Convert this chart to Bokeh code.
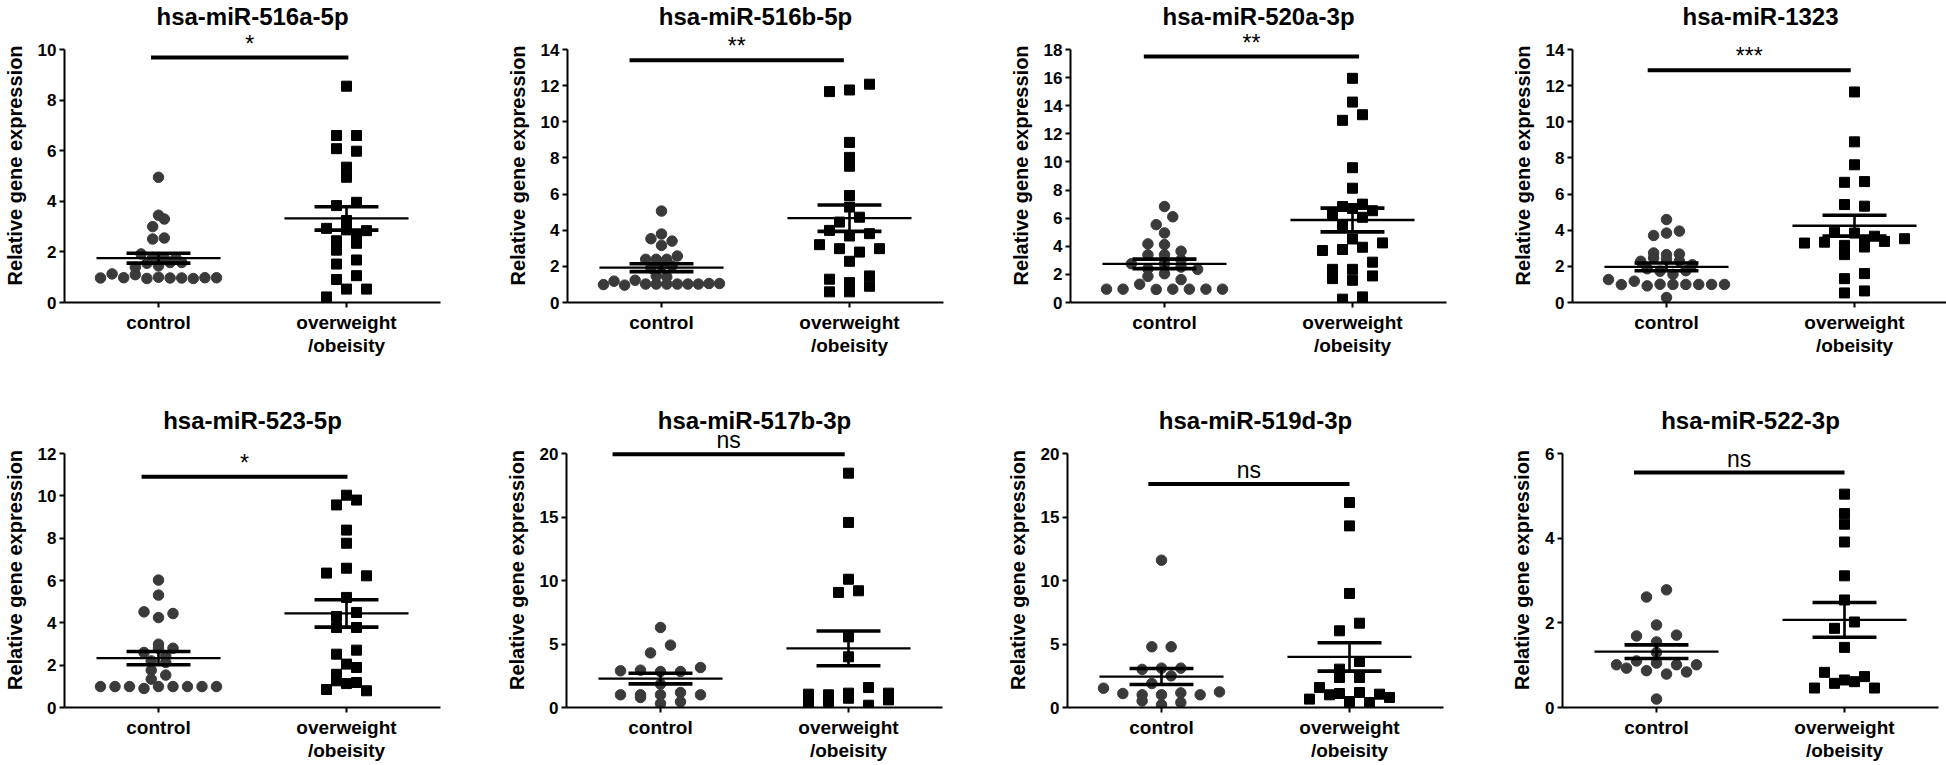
import numpy as np
from bokeh.plotting import figure
from bokeh.layouts import row, column
from bokeh.models import Range1d, FixedTicker, Label
from bokeh.embed import file_html
from bokeh.resources import INLINE

# ---------------- data ----------------
TITLES = ["hsa-miR-516a-5p", "hsa-miR-516b-5p", "hsa-miR-520a-3p", "hsa-miR-1323",
          "hsa-miR-523-5p", "hsa-miR-517b-3p", "hsa-miR-519d-3p", "hsa-miR-522-3p"]
CATEGORIES = ["control", "overweight\n/obeisity"]
Y_LABEL = "Relative gene expression"

CONTROL = [
    [0.97, 1.13, 0.98, 1.10, 0.95, 1.00, 0.97, 0.97, 0.95, 0.98, 0.98, 1.39, 1.55, 1.45, 1.58, 1.58,
     1.92, 1.78, 1.76, 1.76, 2.51, 2.55, 3.00, 3.30, 3.45, 4.95],
    [0.99, 1.18, 0.96, 1.23, 1.02, 1.02, 1.02, 1.02, 1.02, 1.02, 1.05, 1.05, 1.47, 1.42, 1.91, 2.02,
     2.02, 2.39, 2.39, 2.39, 2.57, 3.53, 3.16, 3.40, 3.79, 5.06],
    [0.95, 0.95, 1.30, 0.93, 0.95, 0.95, 0.95, 0.95, 1.86, 2.05, 1.63, 2.76, 2.40, 2.76, 2.52, 2.36,
     3.39, 3.39, 3.04, 4.17, 4.12, 3.65, 4.95, 5.54, 6.10, 6.83],
    [1.27, 0.99, 1.18, 0.92, 1.01, 1.00, 1.00, 1.00, 1.00, 1.00, 0.28, 1.87, 1.73, 1.56, 1.76, 2.28,
     2.46, 2.39, 2.30, 2.09, 2.74, 2.65, 2.68, 3.71, 3.84, 3.95, 4.59],
    [0.99, 1.34, 0.99, 0.99, 0.90, 0.99, 0.99, 0.99, 0.99, 0.99, 1.76, 1.53, 2.20, 2.13, 2.44, 2.60,
     2.80, 2.80, 2.99, 4.52, 4.25, 4.44, 5.31, 6.02],
    [0.79, 1.00, 1.00, 1.00, 1.18, 0.31, 1.00, 0.45, 1.84, 2.89, 2.94, 2.83, 2.83, 3.15, 4.30, 4.91, 6.30],
    [0.52, 1.52, 1.10, 1.00, 1.00, 1.15, 0.21, 1.00, 1.23, 0.39, 1.89, 2.49, 3.00, 3.10, 3.10, 4.78,
     4.78, 11.60],
    [0.93, 1.01, 0.87, 1.10, 0.79, 1.05, 0.84, 1.01, 1.01, 0.20, 1.30, 1.69, 1.55, 1.71, 1.95, 2.61, 2.78],
]
OBESE = [
    [0.22, 0.53, 0.53, 0.91, 1.06, 1.52, 1.68, 2.07, 2.34, 2.44, 2.64, 2.93, 2.87, 2.84, 3.24, 3.83,
     3.96, 4.95, 5.35, 6.08, 5.98, 6.60, 6.60, 8.55],
    [0.59, 1.29, 1.10, 0.59, 1.47, 0.90, 2.28, 3.20, 2.98, 2.79, 2.98, 3.99, 3.68, 3.81, 4.45, 4.72,
     5.28, 5.92, 7.54, 8.03, 8.86, 11.67, 11.76, 12.08],
    [0.24, 0.40, 1.70, 1.58, 1.89, 2.36, 2.36, 2.87, 3.70, 3.77, 3.93, 4.24, 4.52, 5.51, 6.06, 6.22,
     6.83, 7.00, 6.69, 6.53, 8.13, 9.59, 12.96, 13.36, 14.26, 15.95],
    [0.53, 0.64, 1.32, 1.60, 2.65, 3.29, 3.34, 3.16, 3.30, 3.07, 3.38, 3.53, 3.89, 3.84, 3.67, 5.42,
     5.33, 6.65, 6.69, 7.62, 8.89, 11.65],
    [0.85, 1.26, 1.13, 1.18, 0.79, 1.57, 1.89, 2.05, 2.52, 2.71, 3.78, 3.78, 4.30, 4.49, 5.20, 6.35,
     6.58, 6.22, 7.76, 8.38, 9.57, 9.80, 10.03],
    [1.05, 0.39, 1.00, 0.47, 0.73, 1.13, 0.18, 0.60, 1.57, 1.13, 3.99, 5.56, 9.06, 9.19, 10.10, 14.57, 18.45],
    [1.57, 0.66, 1.00, 1.10, 1.18, 0.47, 1.05, 0.39, 0.79, 2.36, 2.36, 3.02, 3.62, 6.04, 6.64, 8.98,
     14.30, 16.14],
    [0.46, 0.83, 0.65, 0.57, 0.61, 0.73, 0.46, 1.42, 1.87, 2.02, 2.54, 3.11, 3.91, 4.33, 4.58, 5.04],
]
Y_MAX = [10, 14, 18, 14, 12, 20, 20, 6]
Y_STEP = [2, 2, 2, 2, 2, 5, 5, 2]
SIG_TEXT = ["*", "**", "**", "***", "*", "ns", "ns", "ns"]
SIG_X0 = [0.96, 0.83, 0.89, 0.90, 0.91, 0.745, 0.93, 0.88]
SIG_X1 = [2.01, 1.97, 2.035, 1.98, 2.005, 1.98, 2.00, 2.00]
SIG_Y = [9.68, 13.4, 17.5, 12.85, 10.9, 19.95, 17.6, 5.55]

# ---------------- layout / style ----------------
FONT = "Liberation Sans"
FRAME_W = 376
TOP_PAD = 21
FRAME_H = [274, 275]                       # per row
BORDERS = [(63, 63), (62, 63), (62, 62), (62, 4),
           (62, 62), (62, 61), (62, 57), (62, 13)]
ROW_TB = [(28, 103), (26, 56)]
CIRCLE_COLOR = "#3a3a3a"


def swarm(vals, ppu_y, ppu_x, row_px=8, span_px=116, max_gap_px=20):
    v = np.asarray(vals, float)
    order = sorted(range(len(v)), key=lambda i: (v[i], i))
    rows, cur = [], []
    for i in order:
        if cur and (v[i] - v[cur[0]]) * ppu_y >= row_px:
            rows.append(cur)
            cur = []
        cur.append(i)
    rows.append(cur)
    nmax = max(len(r) for r in rows)
    gap = min(max_gap_px, span_px / (nmax - 1)) if nmax > 1 else 0
    off = np.zeros(len(v))
    for r in rows:
        r = sorted(r)
        n = len(r)
        for k, i in enumerate(r):
            off[i] = (k - (n - 1) / 2) * gap / ppu_x
    return off


def make_panel(i):
    ymax = Y_MAX[i]
    fh = FRAME_H[i // 4]
    axis_px = fh - TOP_PAD
    yend = ymax * fh / axis_px
    bl, br = BORDERS[i]
    bt, bb = ROW_TB[i // 4]
    p = figure(frame_width=FRAME_W, frame_height=fh,
               x_range=Range1d(0.5, 2.5), y_range=Range1d(0, yend),
               min_border_left=bl, min_border_right=br, min_border_top=bt, min_border_bottom=bb,
               output_backend="svg", toolbar_location=None, title=TITLES[i])
    p.outline_line_color = None
    p.xgrid.visible = False
    p.ygrid.visible = False
    p.background_fill_color = "white"
    p.border_fill_color = "white"

    p.title.text_font = FONT
    p.title.text_font_size = "24px"
    p.title.text_font_style = "bold"
    p.title.align = "center"
    p.title.standoff = -2
    p.title.text_color = "black"

    for ax in (p.xaxis[0], p.yaxis[0]):
        ax.axis_line_width = 2
        ax.axis_line_color = "black"
        ax.major_tick_line_width = 2
        ax.major_tick_line_color = "black"
        ax.major_tick_in = 0
        ax.major_tick_out = 5
        ax.minor_tick_line_color = None
        ax.major_label_text_font = FONT
        ax.major_label_text_font_style = "bold"
        ax.major_label_text_color = "black"

    p.xaxis.ticker = FixedTicker(ticks=[1, 2])
    p.xaxis.major_label_overrides = {1: CATEGORIES[0], 2: CATEGORIES[1]}
    p.xaxis.major_label_text_font_size = "19px"
    p.xaxis.major_label_text_line_height = 1.1
    p.xaxis.major_label_standoff = 4

    p.yaxis.ticker = FixedTicker(ticks=list(range(0, ymax + 1, Y_STEP[i])))
    p.yaxis.bounds = (0, ymax)
    p.yaxis.major_label_text_font_size = "17px"
    p.yaxis.major_label_standoff = 3
    p.yaxis.axis_label = Y_LABEL
    p.yaxis.axis_label_text_font = FONT
    p.yaxis.axis_label_text_font_size = "20px"
    p.yaxis.axis_label_text_font_style = "bold"
    p.yaxis.axis_label_text_color = "black"
    p.yaxis.axis_label_standoff = 9

    ppu_x = FRAME_W / 2.0
    ppu_y = axis_px / ymax
    c = CONTROL[i]
    o = OBESE[i]
    xc = 1 + swarm(c, ppu_y, ppu_x)
    xo = 2 + swarm(o, ppu_y, ppu_x)
    p.scatter(xc, c, marker="circle", size=10.5, fill_color=CIRCLE_COLOR, line_color=CIRCLE_COLOR)
    p.scatter(xo, o, marker="square", size=10, fill_color="black", line_color="black")

    for xg, vals in ((1, c), (2, o)):
        m = float(np.mean(vals))
        s = float(np.std(vals, ddof=1) / np.sqrt(len(vals)))
        p.segment([xg - 0.33], [m], [xg + 0.33], [m], line_width=2.3, line_color="black")
        p.segment([xg - 0.17, xg - 0.17], [m - s, m + s], [xg + 0.17, xg + 0.17], [m - s, m + s],
                  line_width=3.6, line_color="black")
        p.segment([xg], [m - s], [xg], [m + s], line_width=2.6, line_color="black")

    p.segment([SIG_X0[i]], [SIG_Y[i]], [SIG_X1[i]], [SIG_Y[i]], line_width=4, line_color="black")
    p.add_layout(Label(x=(SIG_X0[i] + SIG_X1[i]) / 2, y=SIG_Y[i], text=SIG_TEXT[i],
                       text_align="center", text_baseline="bottom", y_offset=1,
                       text_font=FONT, text_font_size="23px", text_color="black"))
    return p


figs = [make_panel(i) for i in range(8)]
layout = column(row(*figs[:4]), row(*figs[4:]))
open("out.html", "w").write(file_html(layout, INLINE))
